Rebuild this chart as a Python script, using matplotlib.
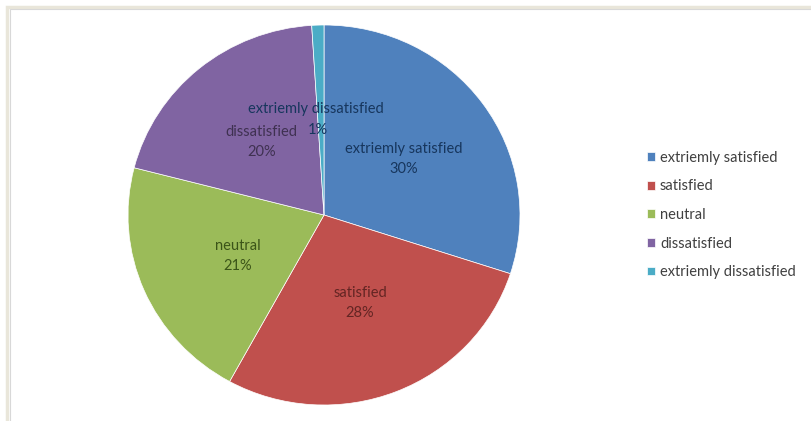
import numpy as np
import matplotlib
matplotlib.use("Agg")
import matplotlib.pyplot as plt
from matplotlib.patches import Rectangle

# data
categories = ["extriemly satisfied", "satisfied", "neutral", "dissatisfied", "extriemly dissatisfied"]
values = [30, 28, 21, 20, 1]
colors = ["#4F81BD", "#C0504D", "#9BBB59", "#8064A2", "#4BACC6"]
label_colors = ["#17365D", "#632523", "#3B5418", "#3F3151", "#17365D"]

plt.rcParams["font.family"] = ["Lato", "DejaVu Sans"]

fig = plt.figure(figsize=(8.12, 4.21), dpi=100)

# chart frame (cropped screenshot look)
fig.add_artist(Rectangle((7 / 812, -0.01), 1.0, 1 - 7 / 421 + 0.01, transform=fig.transFigure,
                         fill=False, edgecolor="#E9E6DA", linewidth=2.5))
fig.add_artist(Rectangle((10 / 812, -0.01), 1.0, 1 - 9 / 421 + 0.01, transform=fig.transFigure,
                         fill=False, edgecolor="#D8D8D8", linewidth=0.8))

ax = fig.add_axes([128 / 812, 16 / 421, 392 / 812, 380 / 421])
wedges, _ = ax.pie(values, colors=colors, startangle=90, counterclock=False,
                   wedgeprops=dict(edgecolor="white", linewidth=0.5))
ax.set_aspect("auto")
ax.set_xlim(-1, 1)
ax.set_ylim(-1, 1)

# data labels inside the slices (best-fit style nudges)
ang_shift = [0, 0, 3, 0, 0]
rad = [0.5, 0.5, 0.49, 0.5, 0.5]
for i, w in enumerate(wedges):
    th = np.deg2rad((w.theta1 + w.theta2) / 2 + ang_shift[i])
    x, y = rad[i] * np.cos(th), rad[i] * np.sin(th)
    if values[i] < 5:
        # tiny slice: name and percent stacked above the centre line
        ax.text(-0.04, 0.56, categories[i], ha="center", va="center",
                fontsize=10.5, color=label_colors[i])
        ax.text(-0.03, 0.445, str(values[i]) + "%", ha="center", va="center",
                fontsize=10.5, color=label_colors[i])
        continue
    txt = categories[i] + "\n" + str(values[i]) + "%"
    ax.text(x, y, txt, ha="center", va="center", fontsize=10.5,
            color=label_colors[i], linespacing=1.55)

leg = fig.legend(wedges, categories, loc="center left", bbox_to_anchor=(641 / 812, 1 - 215 / 421),
                 frameon=False, fontsize=10.5, handlelength=0.55, handleheight=0.55,
                 handletextpad=0.35, labelspacing=1.0, borderaxespad=0)
for t in leg.get_texts():
    t.set_color("#404040")

fig.savefig("out.png", dpi=100)
